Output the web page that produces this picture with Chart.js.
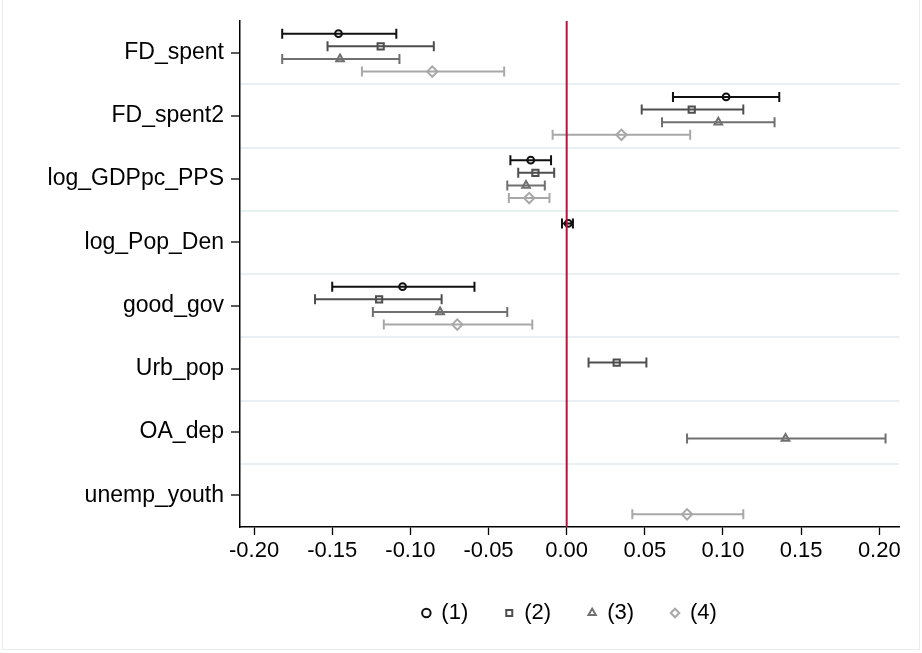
<!DOCTYPE html>
<html>
<head>
<meta charset="utf-8">
<script src="https://cdn.jsdelivr.net/npm/chart.js@4/dist/chart.umd.min.js"></script>
<style>
  html, body { margin: 0; padding: 0; background: #fff; }
  #wrap { width: 922px; height: 653px; position: relative; }
</style>
</head>
<body>
<div id="wrap"><canvas id="c"></canvas></div>
<script>
// Regressors, top to bottom
const categories = ['FD_spent', 'FD_spent2', 'log_GDPpc_PPS', 'log_Pop_Den',
                    'good_gov', 'Urb_pop', 'OA_dep', 'unemp_youth'];

// Model labels
const models = ['(1)', '(2)', '(3)', '(4)'];

// Point estimates per model (null = regressor not in model)
const est1 = [-0.146, 0.102, -0.023, 0.001, -0.105, null, null, null];
const est2 = [-0.119, 0.080, -0.020, null, -0.120, 0.032, null, null];
const est3 = [-0.145, 0.097, -0.026, null, -0.081, null, 0.140, null];
const est4 = [-0.086, 0.035, -0.024, null, -0.070, null, null, 0.077];

// Lower confidence bounds
const lo1 = [-0.182, 0.068, -0.036, -0.003, -0.150, null, null, null];
const lo2 = [-0.153, 0.048, -0.031, null, -0.161, 0.014, null, null];
const lo3 = [-0.182, 0.061, -0.038, null, -0.124, null, 0.077, null];
const lo4 = [-0.131, -0.009, -0.037, null, -0.117, null, null, 0.042];

// Upper confidence bounds
const hi1 = [-0.109, 0.136, -0.010, 0.004, -0.059, null, null, null];
const hi2 = [-0.085, 0.113, -0.008, null, -0.080, 0.051, null, null];
const hi3 = [-0.107, 0.133, -0.014, null, -0.038, null, 0.204, null];
const hi4 = [-0.040, 0.079, -0.011, null, -0.022, null, null, 0.113];

// Horizontal axis ticks and the zero reference line
const xTicks = [-0.20, -0.15, -0.10, -0.05, 0.00, 0.05, 0.10, 0.15, 0.20];
const refLine = [0];

const estimates = [est1, est2, est3, est4];
const lows = [lo1, lo2, lo3, lo4];
const highs = [hi1, hi2, hi3, hi4];

// Styling per model
const colors = ['#111111', '#4e4e4e', '#707070', '#a8a8a8'];
const markers = ['circle', 'rect', 'triangle', 'rectRot'];
const markerRadius = [3.4, 4.4, 4.4, 5.2];
const offsets = [-0.3, -0.1, 0.1, 0.3];

const FONT = "'Liberation Sans', Arial, sans-serif";
const PAD = { left: 0, top: 21, right: 22.7, bottom: 19 };

const markerSets = [], ciSets = [], capSets = [];
models.forEach((name, k) => {
  const pts = [], ci = [], caps = [];
  categories.forEach((_, i) => {
    const e = estimates[k][i];
    if (e === null) return;
    const y = i + offsets[k];
    pts.push({ x: e, y });
    ci.push({ x: lows[k][i], y }, { x: highs[k][i], y }, { x: NaN, y: NaN });
    caps.push({ x: lows[k][i], y }, { x: highs[k][i], y });
  });
  markerSets.push({
    label: name, data: pts, showLine: false,
    pointStyle: markers[k], pointRadius: markerRadius[k],
    pointBorderWidth: 2, borderWidth: 2,
    borderColor: colors[k], backgroundColor: 'rgba(255,255,255,0)',
    pointBackgroundColor: 'rgba(255,255,255,0)', pointBorderColor: colors[k],
    order: 1
  });
  ciSets.push({
    label: 'ci' + k, data: ci, showLine: true, spanGaps: false,
    borderColor: colors[k], borderWidth: 2, pointRadius: 0, order: 3
  });
  capSets.push({
    label: 'cap' + k, data: caps, showLine: false,
    pointStyle: 'line', rotation: 90, pointRadius: 5,
    pointBorderWidth: 2, pointBorderColor: colors[k], borderColor: colors[k],
    order: 2
  });
});

const zeroLine = {
  label: 'zero', data: [{ x: refLine[0], y: -0.5 }, { x: refLine[0], y: 7.5 }],
  showLine: true, borderColor: '#b8123c', borderWidth: 2, pointRadius: 0, order: 0
};

// White background and thin outer frame
const framePlugin = {
  id: 'frame',
  beforeDraw(chart) {
    const ctx = chart.ctx;
    ctx.save();
    ctx.fillStyle = '#ffffff';
    ctx.fillRect(0, 0, chart.width, chart.height);
    ctx.strokeStyle = '#e6eef0';
    ctx.lineWidth = 1;
    ctx.strokeRect(2.5, -2, chart.width - 5, chart.height - 1.5);
    ctx.restore();
  }
};

const isWhole = v => Math.abs(v - Math.round(v)) < 1e-9;

new Chart(document.getElementById('c'), {
  type: 'scatter',
  data: { datasets: [...markerSets, ...capSets, ...ciSets, zeroLine] },
  plugins: [framePlugin],
  options: {
    responsive: true,
    maintainAspectRatio: false,
    animation: false,
    events: [],
    layout: { padding: PAD },
    plugins: {
      tooltip: { enabled: false },
      legend: {
        position: 'bottom',
        fullSize: false,
        labels: {
          filter: item => models.includes(item.text),
          usePointStyle: true,
          boxWidth: 8, boxHeight: 6,
          padding: 37,
          color: '#000',
          font: { family: FONT, size: 22 }
        }
      }
    },
    scales: {
      x: {
        type: 'linear',
        min: -0.209, max: 0.2128,
        afterBuildTicks: s => { s.ticks = xTicks.map(v => ({ value: v })); },
        afterFit: s => { s.height = 38; },
        ticks: {
          callback: v => v.toFixed(2),
          color: '#000', padding: 3,
          maxRotation: 0, autoSkip: false,
          font: { family: FONT, size: 22 }
        },
        grid: { drawOnChartArea: false, tickLength: 8, tickColor: '#000', tickWidth: 1.3 },
        border: { color: '#000', width: 1.5 }
      },
      y: {
        type: 'linear',
        reverse: true,
        min: -0.5, max: 7.5,
        afterBuildTicks: s => {
          const t = [];
          for (let v = -0.5; v <= 7.5 + 1e-9; v += 0.5) t.push({ value: v });
          s.ticks = t;
        },
        afterFit: s => { s.width = 240 - PAD.left; },
        ticks: {
          autoSkip: false, padding: 7, color: '#000',
          callback: v => isWhole(v) ? categories[Math.round(v)] : '',
          font: { family: FONT, size: 23 }
        },
        grid: {
          lineWidth: 2,
          tickLength: 9,
          tickWidth: 1.3,
          color: c => {
            const v = c.tick ? c.tick.value : 0;
            return (!isWhole(v) && v > -0.5 && v < 7.5) ? '#e8f0f2' : 'rgba(0,0,0,0)';
          },
          tickColor: c => {
            const v = c.tick ? c.tick.value : 0.5;
            return isWhole(v) ? '#000' : 'rgba(0,0,0,0)';
          }
        },
        border: { color: '#000', width: 1.5 }
      }
    }
  }
});
</script>
</body>
</html>
